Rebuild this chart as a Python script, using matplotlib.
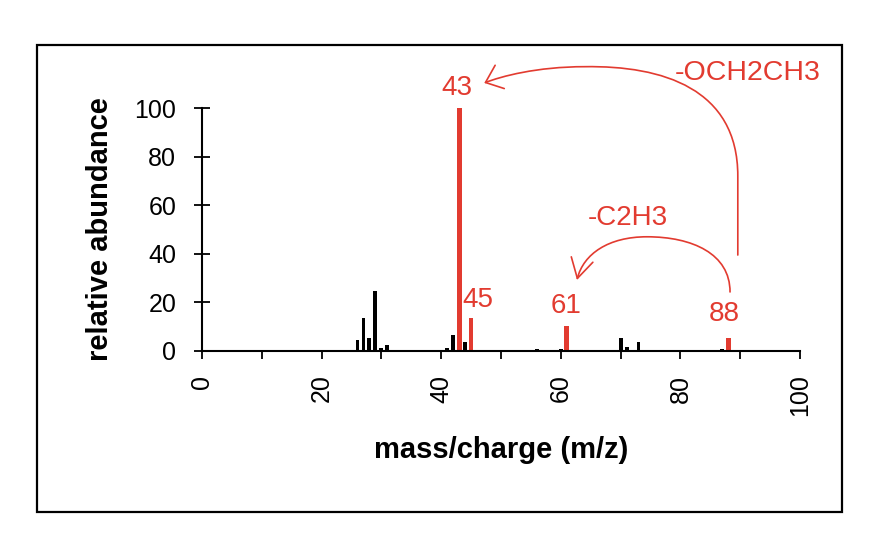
import matplotlib
matplotlib.use("Agg")
import matplotlib.pyplot as plt
from matplotlib.path import Path
from matplotlib.patches import FancyArrowPatch, Rectangle

plt.rcParams['font.family'] = ['Liberation Sans', 'DejaVu Sans']

# Data
black_mz = [26, 27, 28, 29, 30, 31, 41, 42, 44, 46, 56, 60, 70, 71, 73, 87, 89]
black_ab = [4.5, 13.7, 5.5, 24.8, 1.4, 2.5, 1.2, 6.6, 3.8, 0.5, 1.0, 1.0, 5.5, 1.5, 3.6, 1.0, 0.5]
red_mz = [43, 45, 61, 88]
red_ab = [100, 13.4, 10.4, 5.5]
red_labels = ["43", "45", "61", "88"]
x_ticks = [0, 20, 40, 60, 80, 100]
y_ticks = [0, 20, 40, 60, 80, 100]

RED = "#e23b30"

fig = plt.figure(figsize=(8.8, 5.54), dpi=100)
fig.patch.set_facecolor("white")
fig.patches.append(Rectangle((37/880, 1-512/554), (842-37)/880, (512-45)/554,
                             transform=fig.transFigure, fill=False,
                             edgecolor="black", linewidth=1.6))

ax = fig.add_axes([202/880, 1-351/554, 598/880, 243/554])
ax.set_facecolor("none")
ax.bar(black_mz, black_ab, width=0.65, color="black")
ax.bar(red_mz, red_ab, width=0.8, color=RED)

ax.set_xlim(0, 100)
ax.set_ylim(0, 100)
for s in ["top", "right"]:
    ax.spines[s].set_visible(False)
for s in ["left", "bottom"]:
    ax.spines[s].set_linewidth(1.5)
    ax.spines[s].set_clip_on(False)

ax.set_xticks(range(0, 101, 10))
ax.set_xticklabels([str(v) if v in x_ticks else "" for v in range(0, 101, 10)],
                   rotation=90)
ax.set_yticks(y_ticks)
ax.tick_params(axis="y", direction="inout", length=11, width=1.3, labelsize=18, pad=13)
ax.tick_params(axis="x", direction="out", length=6, width=1.3, labelsize=18, pad=11)

ax.set_xlabel("mass/charge (m/z)", fontsize=21, fontweight="bold", labelpad=14)
ax.set_ylabel("relative abundance", fontsize=21, fontweight="bold", labelpad=15)

# peak labels
label_pos = [(42.6, 108.2), (46.1, 21.0), (60.9, 18.5), (87.3, 15.2)]
for (lx, ly), t in zip(label_pos, red_labels):
    ax.text(lx, ly, t, color=RED, fontsize=20, ha="center", va="center", clip_on=False)

ax.text(91.3, 114.4, "-OCH2CH3", color=RED, fontsize=20.5, ha="center", va="center", clip_on=False)
ax.text(71.2, 54.7, "-C2H3", color=RED, fontsize=20, ha="center", va="center", clip_on=False)

# big arrow 88 -> 43
big = Path([(89.6, 39.5), (89.6, 72.0),
            (89.6, 108.0), (77.0, 117.5), (64.0, 117.0),
            (56.0, 117.0), (50.0, 113.0), (47.2, 110.3)],
           [Path.MOVETO, Path.LINETO,
            Path.CURVE4, Path.CURVE4, Path.CURVE4,
            Path.CURVE4, Path.CURVE4, Path.CURVE4])
a1 = FancyArrowPatch(path=big, arrowstyle="->,head_length=11,head_width=9",
                     color=RED, linewidth=1.2, clip_on=False, transform=ax.transData)
ax.add_patch(a1)

# small arrow 88 -> 61
small = Path([(88.3, 24.3),
              (88.3, 40.0), (82.0, 47.0), (74.4, 47.0),
              (68.0, 47.0), (63.8, 40.0), (62.7, 29.2)],
             [Path.MOVETO,
              Path.CURVE4, Path.CURVE4, Path.CURVE4,
              Path.CURVE4, Path.CURVE4, Path.CURVE4])
a2 = FancyArrowPatch(path=small, arrowstyle="->,head_length=14,head_width=8",
                     color=RED, linewidth=1.2, clip_on=False, transform=ax.transData)
ax.add_patch(a2)

fig.savefig("out.png", dpi=100)
